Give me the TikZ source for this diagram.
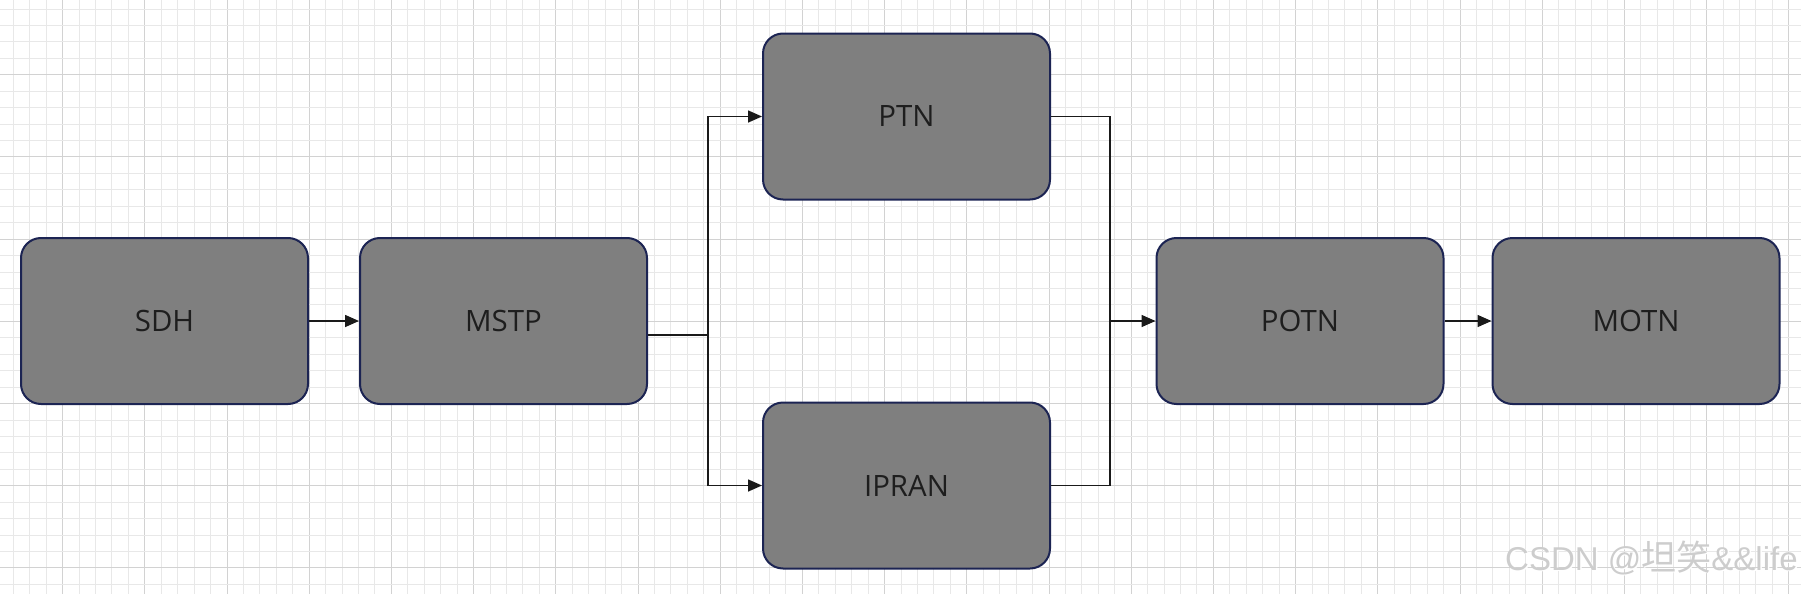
\documentclass[tikz,border=0pt]{standalone}
\usepackage{fontspec}
\setmainfont{Open Sans}
\newfontfamily\wmlatin{Liberation Sans}
\newfontfamily\wmcjk{Noto Sans CJK SC}
\usetikzlibrary{arrows.meta}
\definecolor{gridminor}{HTML}{E8E8E8}
\definecolor{gridmajor}{HTML}{D2D2D2}
\definecolor{boxfill}{HTML}{7F7F7F}
\definecolor{boxedge}{HTML}{1C2453}
\definecolor{labeltext}{HTML}{1E1E1E}
\definecolor{wire}{HTML}{1A1A1A}
\definecolor{wmark}{HTML}{CDCDCD}
\tikzset{
  netbox/.style={draw=boxedge, line width=1pt, fill=boxfill, rounded corners=10pt,
    minimum width=143.5pt, minimum height=83pt, inner sep=0pt,
    text=labeltext, font=\fontsize{14.7}{17}\selectfont},
  link/.style={draw=wire, line width=0.8pt},
  flow/.style={link, -{Triangle[length=7pt,width=6pt]}},
  gridline/.style={line width=0.55pt},
}
\newcommand{\wmtext}{{\wmlatin CSDN @}{\wmcjk\fontsize{17.5}{19}\selectfont 坦笑}{\wmlatin \&\&life}}
\begin{document}
\begin{tikzpicture}[x=0.5pt, y=-0.5pt]
% canvas
\fill[white] (0,0) rectangle (1801,594);
\useasboundingbox (0,0) rectangle (1801,594);
% background grid: minor every 16.44px, every fifth line darker
\foreach \i in {0,...,109} {
  \pgfmathsetmacro{\gx}{round(12.8+16.44*\i)+0.5}
  \pgfmathtruncatemacro{\m}{mod(\i+2,5)}
  \ifnum\m=0
    \draw[gridline, gridmajor] (\gx,0) -- (\gx,594);
  \else
    \draw[gridline, gridminor] (\gx,0) -- (\gx,594);
  \fi
}
\foreach \j in {0,...,36} {
  \pgfmathsetmacro{\gy}{round(8.5+16.44*\j)+0.5}
  \pgfmathtruncatemacro{\m}{mod(\j+1,5)}
  \ifnum\m=0
    \draw[gridline, gridmajor] (0,\gy) -- (1801,\gy);
  \else
    \draw[gridline, gridminor] (0,\gy) -- (1801,\gy);
  \fi
}
% network generations
\node[netbox] (sdh)   at (164.5,321)  {SDH};
\node[netbox] (mstp)  at (503.5,321)  {MSTP};
\node[netbox] (ptn)   at (906.5,116.5){PTN};
\node[netbox] (ipran) at (906.5,485.5){IPRAN};
\node[netbox] (potn)  at (1300,321)   {POTN};
\node[netbox] (motn)  at (1636,321)   {MOTN};
% branch and merge points
\coordinate (split) at (708,335);
\coordinate (merge) at (1110,321);
% connectors
\draw[flow] (sdh) -- (mstp);
\draw[link] (mstp.east |- split) -- (split);
\draw[flow] (split) |- (ptn.west);
\draw[flow] (split) |- (ipran.west);
\draw[link] (ptn.east) -| (merge);
\draw[link] (ipran.east) -| (merge);
\draw[flow] (merge) -- (potn.west);
\draw[flow] (potn) -- (motn);
% watermark
\node[anchor=base east, inner sep=0pt, text=white, font=\fontsize{16.5}{19}\selectfont]
  (wm-hi) at (1799.5,571.5) {\wmtext};
\node[anchor=base east, inner sep=0pt, text=wmark, font=\fontsize{16.5}{19}\selectfont]
  (wm) at (1798,570.5) {\wmtext};
\end{tikzpicture}
\end{document}
